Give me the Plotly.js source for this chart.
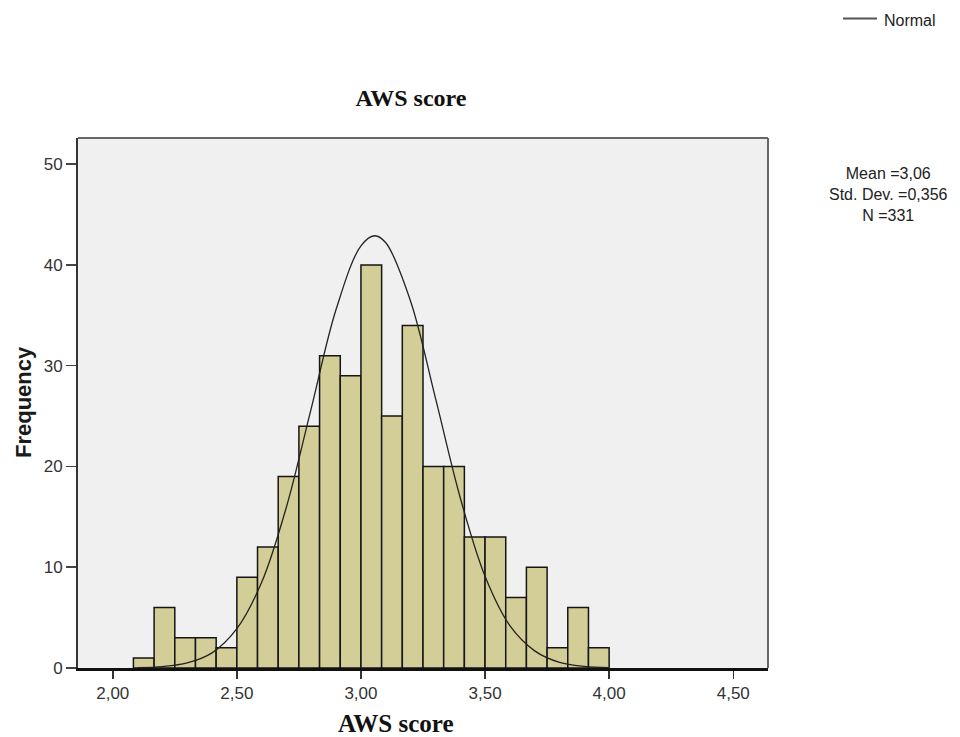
<!DOCTYPE html>
<html>
<head>
<meta charset="utf-8">
<script src="https://cdn.plot.ly/plotly-3.0.1.min.js"></script>
<style>html,body{margin:0;padding:0;background:#fff;}#chart{width:960px;height:737px;}</style>
</head>
<body>
<div id="chart"></div>
<script>
// Histogram bins (centers) and frequencies
const binCenters = [2.125, 2.2083, 2.2917, 2.375, 2.4583, 2.5417, 2.625, 2.7083, 2.7917, 2.875,
                    2.9583, 3.0417, 3.125, 3.2083, 3.2917, 3.375, 3.4583, 3.5417, 3.625, 3.7083,
                    3.7917, 3.875, 3.9583];
const frequencies = [1, 6, 3, 3, 2, 9, 12, 19, 24, 31, 29, 40, 25, 34, 20, 20, 13, 13, 7, 10, 2, 6, 2];
const binWidth = 0.08333;

// Normal curve points
const curveX = [2.1, 2.2, 2.3, 2.4, 2.5, 2.6, 2.7, 2.8, 2.9, 3.0, 3.055, 3.1, 3.2, 3.3, 3.4, 3.5, 3.6, 3.7, 3.8, 3.9, 4.0];
const curveY = [0.04, 0.14, 0.5, 1.5, 3.9, 8.5, 16.0, 25.8, 35.6, 41.9, 42.9, 42.2, 36.4, 26.8, 16.9, 9.1, 4.2, 1.7, 0.56, 0.16, 0.04];

const xTicks = [2.0, 2.5, 3.0, 3.5, 4.0, 4.5];
const yTicks = [0, 10, 20, 30, 40, 50];
const statLines = ["Mean =3,06", "Std. Dev. =0,356", "N =331"];
const titleText = "AWS score";
const xTitle = "AWS score";
const yTitle = "Frequency";
const legendLabel = "Normal";

const bars = {
  type: 'bar',
  x: binCenters,
  y: frequencies,
  width: binWidth,
  marker: {color: '#d3ce98', line: {color: '#151515', width: 1.5}},
  showlegend: false,
  hoverinfo: 'x+y'
};
const curve = {
  type: 'scatter',
  mode: 'lines',
  x: curveX,
  y: curveY,
  line: {color: '#222', width: 1.3, shape: 'spline', smoothing: 1},
  showlegend: false,
  name: legendLabel
};

const L = 78, R = 192, T = 138, B = 69, W = 960, H = 737;
const pw = W - L - R, ph = H - T - B;
const px = v => (v - L) / pw;
const py = v => (H - B - v) / ph;

const annotations = [
  {text: xTitle, xref: 'paper', yref: 'paper', x: px(396), y: py(723), xanchor: 'center', yanchor: 'middle',
   showarrow: false, font: {family: 'Liberation Serif, Times New Roman, serif', size: 25, color: '#111', weight: 'bold'}},
  {text: yTitle, xref: 'paper', yref: 'paper', x: px(23), y: py(402), xanchor: 'center', yanchor: 'middle', textangle: -90,
   showarrow: false, font: {family: 'Liberation Sans, Arial, sans-serif', size: 22, color: '#1a1a1a', weight: 'bold'}},
  {text: legendLabel, xref: 'paper', yref: 'paper', x: px(882), y: py(20), xanchor: 'left', yanchor: 'middle',
   showarrow: false, font: {family: 'Liberation Sans, Arial, sans-serif', size: 16, color: '#222'}},
  {text: statLines.join('<br>'), xref: 'paper', yref: 'paper', x: px(888), y: py(194), xanchor: 'center', yanchor: 'middle',
   align: 'center', showarrow: false, font: {family: 'Liberation Sans, Arial, sans-serif', size: 16, color: '#222'}}
];

const layout = {
  width: W, height: H,
  margin: {l: L, r: R, t: T, b: B, pad: 0},
  paper_bgcolor: '#ffffff',
  plot_bgcolor: '#f0f0f0',
  separators: ', ',
  bargap: 0,
  title: {text: titleText, x: 411 / W, xref: 'container', xanchor: 'center', y: 1 - 98 / H, yref: 'container', yanchor: 'middle',
          font: {family: 'Liberation Serif, Times New Roman, serif', size: 24, color: '#111', weight: 'bold'}},
  xaxis: {
    range: [1.86, 4.64], tickvals: xTicks, tickformat: '.2f',
    ticks: 'outside', ticklen: 8, tickwidth: 1.5, tickcolor: '#333',
    showgrid: false, zeroline: false,
    showline: true, linecolor: '#111', linewidth: 2.5,
    tickfont: {family: 'Liberation Sans, Arial, sans-serif', size: 17, color: '#333'}
  },
  yaxis: {
    range: [0, 52.6], tickvals: yTicks,
    ticks: 'outside', ticklen: 10, tickwidth: 1.5, tickcolor: '#444',
    showgrid: false, zeroline: false,
    showline: true, linecolor: '#333', linewidth: 2,
    tickfont: {family: 'Liberation Sans, Arial, sans-serif', size: 17, color: '#333'}
  },
  shapes: [
    {type: 'line', xref: 'paper', yref: 'paper', x0: 0, x1: 1, y0: 1, y1: 1, line: {color: '#666', width: 2}},
    {type: 'line', xref: 'paper', yref: 'paper', x0: 1, x1: 1, y0: 0, y1: 1, line: {color: '#666', width: 2}},
    {type: 'line', xref: 'paper', yref: 'paper', x0: px(843), x1: px(877), y0: py(18.5), y1: py(18.5), line: {color: '#555', width: 2}}
  ],
  annotations: annotations,
  showlegend: false
};

Plotly.newPlot('chart', [bars, curve], layout, {displayModeBar: false, staticPlot: true});
</script>
</body>
</html>
